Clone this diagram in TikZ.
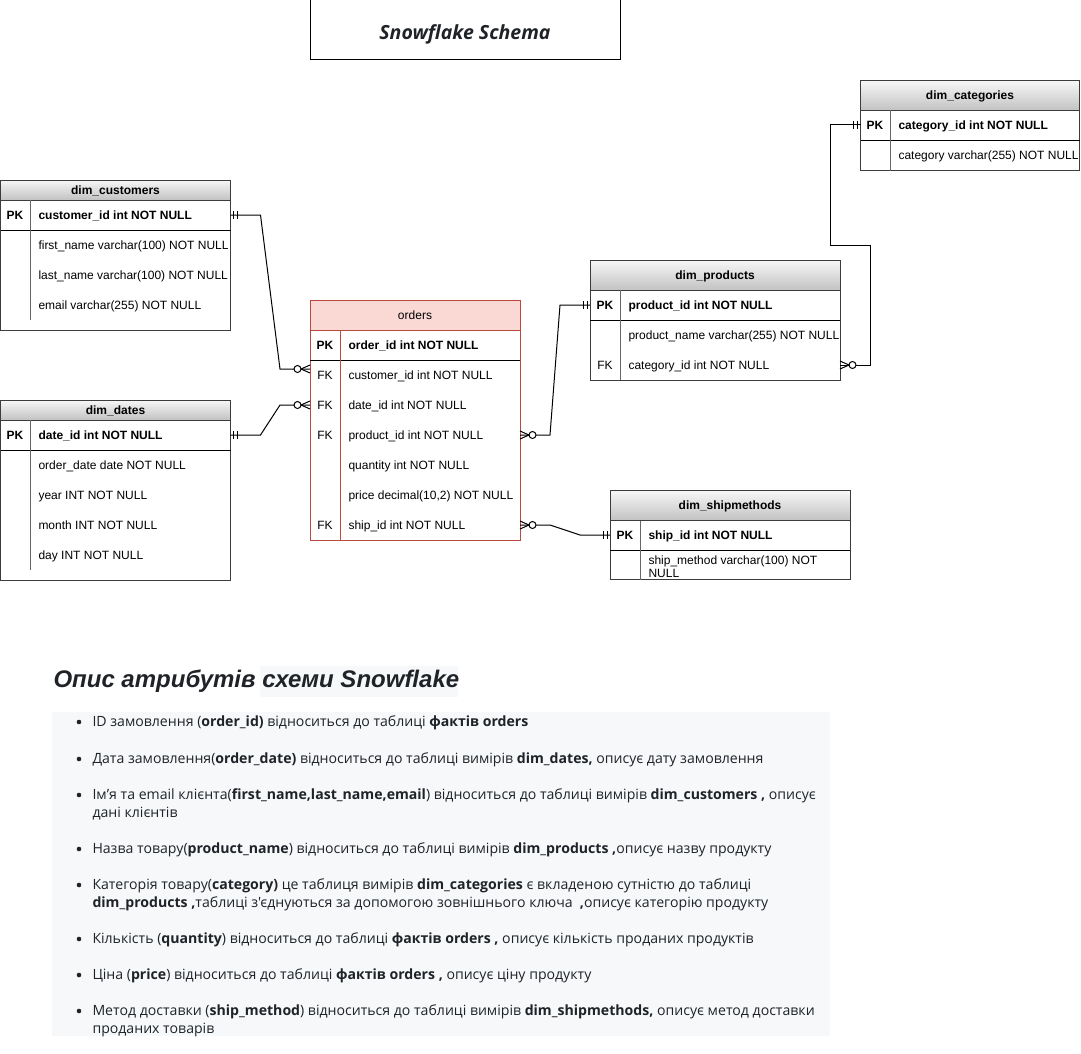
\documentclass[tikz,border=0pt]{standalone}
\usepackage{fontspec}
\setmainfont{Liberation Sans}
\newfontfamily\titlefont{Open Sans}
\newfontfamily\descfont{Open Sans}
\usetikzlibrary{calc,positioning}

\definecolor{hdrtop}{HTML}{F7F7F7}
\definecolor{hdrbot}{HTML}{C2C2C2}
\definecolor{factfill}{HTML}{FAD9D5}
\definecolor{factline}{HTML}{B84A3E}
\definecolor{tblline}{HTML}{3C3C3C}
\definecolor{divgray}{HTML}{666666}
\definecolor{panelbg}{HTML}{F6F8FA}
\definecolor{ink}{HTML}{1F2328}

\newcommand\tblfont{\fontsize{12}{13.5}\selectfont}

\tikzset{
  tblframe/.style={draw=tblline, inner sep=0pt, outer sep=0pt, anchor=north west},
  hdr/.style={draw=tblline, top color=hdrtop, bottom color=hdrbot, inner sep=0pt,
    outer sep=0pt, anchor=north west, font=\tblfont\bfseries, text height=8.6pt, text depth=0pt},
  facthdr/.style={hdr, draw=factline, fill=factfill, top color=factfill, bottom color=factfill,
    font=\tblfont},
  pkline/.style={draw=black},
  divline/.style={draw=divgray},
  keycell/.style={inner sep=0pt, font=\tblfont\bfseries, text height=8.6pt, text depth=0pt},
  fkcell/.style={keycell, font=\tblfont},
  rowcell/.style={anchor=west, inner sep=0pt, align=left, text height=8.6pt, text depth=0pt},
  pkcell/.style={rowcell, font=\tblfont\bfseries},
  conn/.style={draw=black},
  onlyone/.pic={\draw (-3,-4) -- (-3,4) (-7,-4) -- (-7,4);},
  zeromany/.pic={\draw (0,-4) -- (-9,0) -- (0,4);
    \draw[fill=white] (-12.5,0) circle (3.5pt);},
  titlebox/.style={draw=black, minimum width=310pt, minimum height=60pt, text=ink,
    text height=20pt, text depth=0pt,
    font=\titlefont\bfseries\itshape\fontsize{19.5}{22}\selectfont},
  item/.style={anchor=base west, inner sep=0pt, align=left, text=ink,
    font=\descfont\fontsize{14.1}{18}\selectfont},
}

\begin{document}
\begin{tikzpicture}[x=1pt, y=-1pt, line width=1pt, font=\tblfont]
\useasboundingbox (0,0) rectangle (1081,1054);

% title
\node[titlebox] (title) at (465,30) {Snowflake Schema};

% dim_customers
\node[tblframe, minimum width=230pt, minimum height=150pt] (cust) at (0.5,180) {};
\node[hdr, minimum width=230pt, minimum height=20pt] (cust-h) at (0.5,180) {dim\_customers};
\draw[pkline] (0.5,230) -- (230.5,230);
\draw[divline] (30,200) -- (30,320);
\node[keycell] (cust-k) at (15,215) {PK};
\node[pkcell] (cust-pk) at (38,215) {customer\_id int NOT NULL};
\node[rowcell] (cust-fn) at (38,245) {first\_name varchar(100) NOT NULL};
\node[rowcell] (cust-ln) at (38,275) {last\_name varchar(100) NOT NULL};
\node[rowcell] (cust-em) at (38,305) {email varchar(255) NOT NULL};

% dim_dates
\node[tblframe, minimum width=230pt, minimum height=180pt] (dat) at (0.5,400) {};
\node[hdr, minimum width=230pt, minimum height=20pt] (dat-h) at (0.5,400) {dim\_dates};
\draw[pkline] (0.5,450) -- (230.5,450);
\draw[divline] (30,420) -- (30,570);
\node[keycell] (dat-k) at (15,435) {PK};
\node[pkcell] (dat-pk) at (38,435) {date\_id int NOT NULL};
\node[rowcell] (dat-od) at (38,465) {order\_date date NOT NULL};
\node[rowcell] (dat-yr) at (38,495) {year INT NOT NULL};
\node[rowcell] (dat-mo) at (38,525) {month INT NOT NULL};
\node[rowcell] (dat-dy) at (38,555) {day INT NOT NULL};

% orders
\node[tblframe, draw=factline, minimum width=210pt, minimum height=240pt] (ord) at (310,300) {};
\node[facthdr, minimum width=210pt, minimum height=30pt] (ord-h) at (310,300) {orders};
\draw[pkline] (310,360) -- (520,360);
\draw[divline, draw=factline] (340,330) -- (340,540);
\node[keycell] (ord-k) at (325,345) {PK};
\node[pkcell] (ord-pk) at (348,345) {order\_id int NOT NULL};
\node[fkcell] (ord-k1) at (325,375) {FK};
\node[rowcell] (ord-cust) at (348,375) {customer\_id int NOT NULL};
\node[fkcell] (ord-k2) at (325,405) {FK};
\node[rowcell] (ord-date) at (348,405) {date\_id int NOT NULL};
\node[fkcell] (ord-k3) at (325,435) {FK};
\node[rowcell] (ord-prod) at (348,435) {product\_id int NOT NULL};
\node[rowcell] (ord-qty) at (348,465) {quantity int NOT NULL};
\node[rowcell] (ord-pr) at (348,495) {price decimal(10,2) NOT NULL};
\node[fkcell] (ord-k4) at (325,525) {FK};
\node[rowcell] (ord-ship) at (348,525) {ship\_id int NOT NULL};

% dim_products
\node[tblframe, minimum width=250pt, minimum height=120pt] (prd) at (590,260) {};
\node[hdr, minimum width=250pt, minimum height=30pt] (prd-h) at (590,260) {dim\_products};
\draw[pkline] (590,320) -- (840,320);
\draw[divline] (620,290) -- (620,380);
\node[keycell] (prd-k) at (605,305) {PK};
\node[pkcell] (prd-pk) at (628,305) {product\_id int NOT NULL};
\node[rowcell] (prd-nm) at (628,335) {product\_name varchar(255) NOT NULL};
\node[fkcell] (prd-k1) at (605,365) {FK};
\node[rowcell] (prd-cat) at (628,365) {category\_id int NOT NULL};

% dim_categories
\node[tblframe, minimum width=219pt, minimum height=90pt] (cat) at (860.5,80.5) {};
\node[hdr, minimum width=219pt, minimum height=30pt] (cat-h) at (860.5,80.5) {dim\_categories};
\draw[pkline] (860.5,140.5) -- (1079.5,140.5);
\draw[divline] (890,110.5) -- (890,170.5);
\node[keycell] (cat-k) at (875,125) {PK};
\node[pkcell] (cat-pk) at (898,125) {category\_id int NOT NULL};
\node[rowcell] (cat-nm) at (898,155) {category varchar(255) NOT NULL};

% dim_shipmethods
\node[tblframe, minimum width=240pt, minimum height=89pt] (shp) at (610,490.5) {};
\node[hdr, minimum width=240pt, minimum height=30pt] (shp-h) at (610,490.5) {dim\_shipmethods};
\draw[pkline] (610,550.5) -- (850,550.5);
\draw[divline] (640,520.5) -- (640,579.5);
\node[keycell] (shp-k) at (625,535) {PK};
\node[pkcell] (shp-pk) at (648,535) {ship\_id int NOT NULL};
\node[anchor=north west, inner sep=0pt, align=left] (shp-nm) at (648,555) {ship\_method varchar(100) NOT\\NULL};

% relations
\draw[conn] (cust.east |- cust-pk) -- ++(30,0) -- ($(ord.west |- ord-cust)+(-30,-6)$) -- ($(ord.west |- ord-cust)+(0,-6)$);
\draw[conn] (dat.east |- dat-pk) -- ++(30,0) -- ($(ord.west |- ord-date)+(-30,0)$) -- (ord.west |- ord-date);
\draw[conn] (ord.east |- ord-prod) -- ++(30,0) -- ($(prd.west |- prd-pk)+(-30,0)$) -- (prd.west |- prd-pk);
\draw[conn] (ord.east |- ord-ship) -- ++(30,0) -- ($(shp.west |- shp-pk)+(-30,0)$) -- (shp.west |- shp-pk);
\draw[conn] (prd.east |- prd-cat) -| ++(30,-120) -| ($(cat.west |- cat-pk)+(-30,0)$) -- (cat.west |- cat-pk);

% ends
\path (cust.east |- cust-pk) pic[xscale=-1] {onlyone};
\path ($(ord.west |- ord-cust)+(0,-6)$) pic {zeromany};
\path (dat.east |- dat-pk) pic[xscale=-1] {onlyone};
\path (ord.west |- ord-date) pic {zeromany};
\path (ord.east |- ord-prod) pic[xscale=-1] {zeromany};
\path (prd.west |- prd-pk) pic {onlyone};
\path (ord.east |- ord-ship) pic[xscale=-1] {zeromany};
\path (shp.west |- shp-pk) pic {onlyone};
\path (prd.east |- prd-cat) pic[xscale=-1] {zeromany};
\path (cat.west |- cat-pk) pic {onlyone};

% description
\fill[panelbg] (260,666) rectangle (458,697);
\node[anchor=west, inner sep=0pt, text=ink, font=\bfseries\itshape\fontsize{24}{27}\selectfont] (head) at (53,681) {Опис атрибутів схеми Snowflake};
\fill[panelbg] (52,712) rectangle (830,1036);
\foreach \y in {722,759,795,849,885,939,975,1011}
  \fill[ink] (79,\y) circle (2.3pt);
\node[item] (d1) at (92,726) {ID замовлення (\textbf{order\_id)} відноситься до таблиці \textbf{фактів orders}};
\node[item] (d2) at (92,763) {Дата замовлення(\textbf{order\_date)} відноситься до таблиці вимірів \textbf{dim\_dates,} описує дату замовлення};
\node[item] (d3) at (92,817) {Ім’я та email клієнта(\textbf{first\_name,last\_name,email}) відноситься до таблиці вимірів \textbf{dim\_customers ,} описує\\дані клієнтів};
\node[item] (d4) at (92,853) {Назва товару(\textbf{product\_name}) відноситься до таблиці вимірів \textbf{dim\_products ,}описує назву продукту};
\node[item] (d5) at (92,907) {Категорія товару(\textbf{category)} це таблиця вимірів \textbf{dim\_categories} є вкладеною сутністю до таблиці\\\textbf{dim\_products ,}таблиці з'єднуються за допомогою зовнішнього ключа\ \ \textbf{,}описує категорію продукту};
\node[item] (d6) at (92,943) {Кількість (\textbf{quantity}) відноситься до таблиці \textbf{фактів orders ,} описує кількість проданих продуктів};
\node[item] (d7) at (92,979) {Ціна (\textbf{price}) відноситься до таблиці \textbf{фактів orders ,} описує ціну продукту};
\node[item] (d8) at (92,1033) {Метод доставки (\textbf{ship\_method}) відноситься до таблиці вимірів \textbf{dim\_shipmethods,} описує метод доставки\\проданих товарів};
\end{tikzpicture}
\end{document}
